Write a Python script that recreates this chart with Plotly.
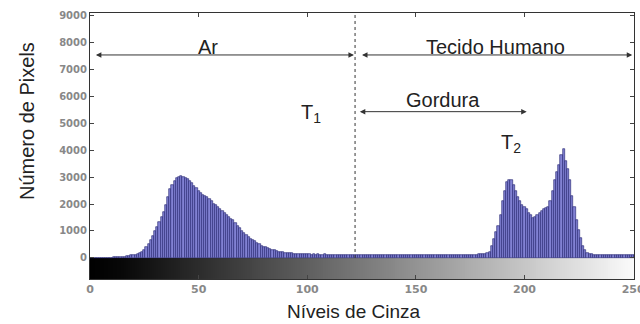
import plotly.graph_objects as go

# Gray levels and pixel counts
gray_levels = list(range(256))
pixel_counts = [
    0, 0, 0, 0, 0, 0, 0, 0, 5, 10,
    15, 20, 25, 30, 35, 40, 50, 60, 80, 100,
    110, 120, 150, 180, 240, 300, 400, 520, 650, 800,
    1000, 1150, 1350, 1500, 1700, 1950, 2250, 2550, 2700, 2850,
    2950, 3000, 3020, 3000, 2960, 2920, 2850, 2780, 2680, 2600,
    2500, 2420, 2350, 2300, 2250, 2180, 2100, 2000, 1950, 1880,
    1820, 1750, 1680, 1600, 1500, 1450, 1400, 1300, 1200, 1100,
    1000, 920, 850, 780, 720, 670, 620, 560, 500, 450,
    420, 390, 360, 330, 300, 280, 260, 240, 220, 210,
    200, 190, 180, 170, 165, 160, 155, 150, 145, 140,
    135, 130, 128, 132, 125, 130, 128, 126, 130, 124,
    128, 126, 122, 128, 125, 120, 126, 122, 118, 124,
    120, 116, 122, 118, 114, 120, 116, 122, 118, 115,
    120, 117, 113, 119, 115, 121, 117, 114, 119, 116,
    112, 118, 115, 120, 116, 113, 118, 115, 121, 117,
    114, 119, 116, 112, 118, 115, 120, 117, 113, 119,
    116, 121, 117, 114, 120, 116, 113, 118, 122, 117,
    114, 120, 116, 122, 118, 125, 121, 128, 124, 130,
    135, 140, 150, 170, 220, 450, 700, 950, 1200, 1600,
    2100, 2500, 2800, 2900, 2880, 2700, 2500, 2250, 2100, 1980,
    1900, 1800, 1680, 1580, 1480, 1520, 1600, 1680, 1750, 1800,
    1850, 1900, 2100, 2500, 2900, 3200, 3450, 3800, 4020, 3600,
    3300, 2900, 2300, 1900, 1400, 1050, 750, 450, 300, 180,
    150, 130, 120, 115, 110, 118, 112, 108, 115, 110,
    106, 112, 108, 104, 110, 106, 102, 108, 104, 100,
    106, 102, 100, 104, 100, 98,
]

x_ticks = [0, 50, 100, 150, 200, 250]
y_ticks = [0, 1000, 2000, 3000, 4000, 5000, 6000, 7000, 8000, 9000]

# Thresholds and region labels
t1 = 122
t2_label_x = 194
ar_range = [2, 121.5]
tecido_range = [124.5, 249.6]
gordura_range = [123.5, 201]
arrow_y_top = 7520
arrow_y_gordura = 5420

Y_MIN, Y_MAX = -778, 9074

fig = go.Figure()

# grayscale bar under the histogram
fig.add_trace(go.Heatmap(
    z=[gray_levels],
    x=[g - 0.5 for g in gray_levels] + [255.5],
    y=[Y_MIN, 0],
    colorscale=[[0, "#000000"], [0.06, "#080808"], [1, "#ffffff"]],
    showscale=False, hoverinfo="skip", zmin=0, zmax=255,
))

fig.add_trace(go.Bar(
    x=gray_levels, y=pixel_counts, width=1,
    marker=dict(color="rgb(130,130,212)", line=dict(color="rgb(28,28,105)", width=0.6)),
))

txt_font = dict(family="Liberation Sans, Arial", size=20, color="#222")

annotations = []
# arrows (double-headed)
for (x0, x1), yv in [(ar_range, arrow_y_top), (tecido_range, arrow_y_top), (gordura_range, arrow_y_gordura)]:
    annotations.append(dict(
        x=x1, y=yv, ax=x0, ay=yv, xref="x", yref="y", axref="x", ayref="y",
        showarrow=True, arrowhead=2, arrowside="end+start", arrowsize=1.1,
        arrowwidth=1, arrowcolor="#333", text="",
    ))

annotations += [
    dict(x=54.5, y=7820, xref="x", yref="y", text="Ar", showarrow=False, font=txt_font),
    dict(x=186.5, y=7820, xref="x", yref="y", text="Tecido Humano", showarrow=False, font=txt_font),
    dict(x=162.5, y=5850, xref="x", yref="y", text="Gordura", showarrow=False, font=txt_font),
    dict(x=101.5, y=5350, xref="x", yref="y", text="T<sub>1</sub>", showarrow=False, font=txt_font),
    dict(x=t2_label_x, y=4250, xref="x", yref="y", text="T<sub>2</sub>", showarrow=False, font=txt_font),
    dict(x=353, y=311, xref="paper", yref="paper", text="Níveis de Cinza", showarrow=False,
         font=dict(family="Liberation Sans, Arial", size=19, color="#222")),
    dict(x=27, y=121, xref="paper", yref="paper", text="Número de Pixels", showarrow=False,
         textangle=-90, font=dict(family="Liberation Sans, Arial", size=20, color="#222")),
]

# convert pixel-positioned labels to paper coords
W, H = 640, 324
ML, MR, MT, MB = 90, 6, 13, 45
for a in annotations:
    if a.get("xref") == "paper":
        a["x"] = (a["x"] - ML) / (W - ML - MR)
        a["y"] = 1 - (a["y"] - MT) / (H - MT - MB)
        a["xanchor"] = "center"
        a["yanchor"] = "middle"

fig.add_shape(type="line", x0=t1, x1=t1, y0=0, y1=Y_MAX, xref="x", yref="y",
              line=dict(color="#333", width=1, dash="dot"))

fig.update_layout(
    width=W, height=H,
    margin=dict(l=ML, r=MR, t=MT, b=MB, autoexpand=False),
    paper_bgcolor="white", plot_bgcolor="white",
    bargap=0, showlegend=False,
    annotations=annotations,
    xaxis=dict(range=[0, 250.4], tickvals=x_ticks, ticks="inside", ticklen=4,
               showline=True, linecolor="#333", linewidth=1, mirror="ticks",
               showgrid=False, zeroline=False, ticklabeloverflow="allow", automargin=False,
               tickfont=dict(family="DejaVu Sans", size=11, color="#888", weight="bold")),
    yaxis=dict(range=[Y_MIN, Y_MAX], tickvals=y_ticks, ticks="inside", ticklen=4,
               showline=True, linecolor="#333", linewidth=1, mirror="ticks",
               showgrid=False, zeroline=False, automargin=False,
               tickfont=dict(family="DejaVu Sans", size=10, color="#888", weight="bold")),
)

fig.write_html("out.html")
